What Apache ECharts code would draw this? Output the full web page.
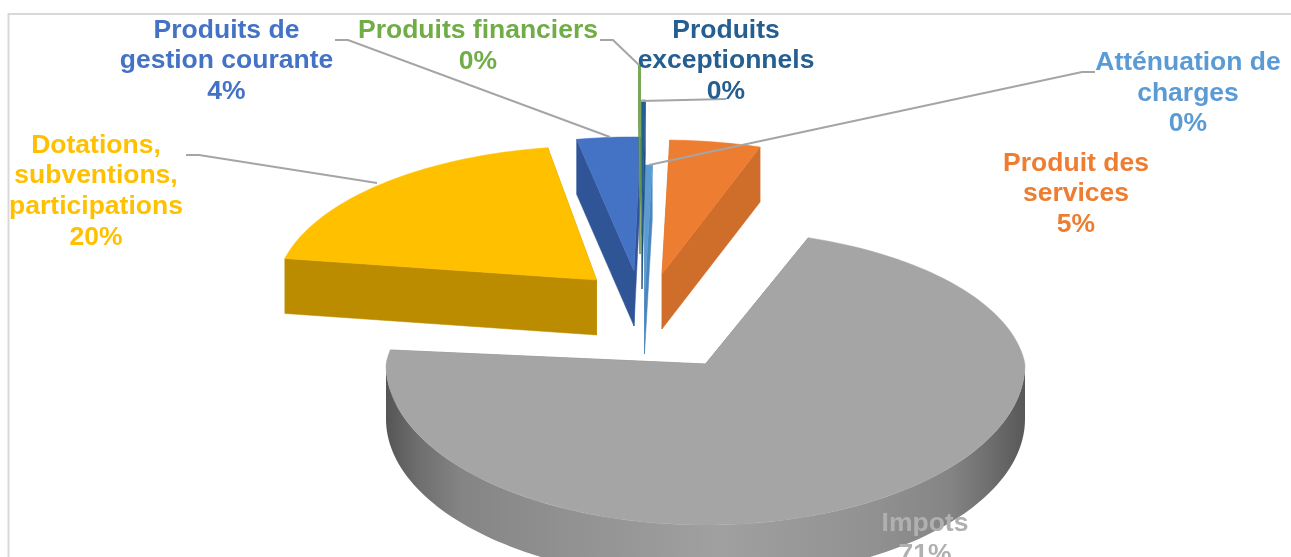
<!DOCTYPE html>
<html><head><meta charset="utf-8">
<style>html,body{margin:0;padding:0;background:#fff}#c{width:1291px;height:557px}</style>
<script src="https://cdn.jsdelivr.net/npm/echarts@6/dist/echarts.min.js"></script>
</head><body><div id="c"></div>
<script>
// Data
const categories = ['Atténuation de\ncharges','Produit des\nservices','Impots','Dotations,\nsubventions,\nparticipations','Produits de\ngestion courante','Produits financiers','Produits\nexceptionnels'];
const values = [0.4, 5, 71, 20, 3.5, 0.1, 0.2];
const percentLabels = ['0%','5%','71%','20%','4%','0%','0%'];

// Styles
const topColors  = ['#5b9bd5','#ed7d31','#a5a5a5','#ffc000','#4472c4','#70ad47','#255e91'];
const sideColors = ['#4a86bd','#cf6d2b','#7f7f7f','#bc8c00','#2f5597','#548235','#1e4e79'];
const labelColors = ['#5b9bd5','#ed7d31','#b0b0b0','#ffc000','#4472c4','#70ad47','#255e91'];

// Layout of the exploded 3D pie: each slice has its own apex and facing direction
const R = 319.5, backK = 146.3, frontK = 161, persp = 0.0915, depth = 55;
const apexes = [[644.5,299],[662,274],[705.5,364],[596.5,280],[634,271],[640,199],[642,234]];
const facing = [0.8, 10.5, 148, 314.5, 355, -0.1, 0.3];
const labelAnchors = [[1188,93.2],[1076,194],[925,539.5],[96,191.5],[226.5,61],[478,46.5],[726,61]];
const leaders = [
  [[1095,72],[1082,72],[649,165]],
  null,
  null,
  [[186,155],[199,155],[377,183]],
  [[335,40],[348,40],[610,137]],
  [[600,40],[613,40],[639,65]],
  [[726,99],[641,101]]
];
const wallStops = [[0,'#555555'],[0.05,'#6e6e6e'],[0.12,'#858585'],[0.27,'#909090'],[0.52,'#a0a0a0'],[0.75,'#929292'],[0.88,'#858585'],[0.94,'#707070'],[1,'#585858']];

const total = values.reduce((a,b)=>a+b,0);

function pt(apex, deg){
  const t = deg*Math.PI/180, u = Math.sin(t), v = Math.cos(t);
  if(v >= 0){ const w = 1+persp*v; return [apex[0]+R*u/w, apex[1]-backK*v/w]; }
  return [apex[0]+R*u, apex[1]-frontK*v];
}
function down(p){ return [p[0], p[1]+depth]; }
function poly(points, fill){
  return {type:'polygon', shape:{points}, style:{fill, stroke:fill, lineWidth:0.5}, silent:true};
}
function renderSlice(params, api){
  const i = api.value(1), span = api.value(0)/total*360;
  const a0 = facing[i]-span/2, a1 = facing[i]+span/2, apex = apexes[i];
  const arc = [];
  const n = Math.max(2, Math.ceil((a1-a0)/1.5));
  for(let k=0;k<=n;k++) arc.push(a0+(a1-a0)*k/n);
  const arcPts = arc.map(d=>pt(apex,d));
  const children = [];
  const side = sideColors[i];
  [arcPts[0], arcPts[arcPts.length-1]].forEach(p=>{
    children.push(poly([p, apex, down(apex), down(p)], side));
  });
  // outer wall: only the front half, from one widest point of the rim to the other
  const frontA = Math.max(a0, 90), frontB = Math.min(a1, 270);
  if(frontB > frontA){
    const m = Math.ceil((frontB-frontA)/1.5), front = [];
    for(let k=0;k<=m;k++) front.push(pt(apex, frontA+(frontB-frontA)*k/m));
    const fill = i===2 ? new echarts.graphic.LinearGradient(0,0,1,0,wallStops.map(s=>({offset:s[0],color:s[1]}))) : side;
    children.push({type:'polygon', shape:{points: front.concat(front.slice().reverse().map(down))}, style:{fill}, silent:true});
  }
  children.push(poly([apex].concat(arcPts), topColors[i]));
  return {type:'group', children};
}
function renderLeader(params, api){
  const pts = leaders[api.value(0)];
  if(!pts) return {type:'group', children:[]};
  return {type:'polyline', shape:{points:pts}, style:{stroke:'#a5a5a5', lineWidth:2, fill:null}, silent:true};
}
function renderLabel(params, api){
  const i = api.value(0), a = labelAnchors[i];
  return {type:'text', x:a[0], y:a[1], silent:true, style:{
    text: categories[i]+'\n'+percentLabels[i], fill: labelColors[i],
    font:'bold 26.5px "Liberation Sans", Arial, sans-serif', lineHeight:30.7, align:'center', verticalAlign:'middle'
  }};
}
const chart = echarts.init(document.getElementById('c'), null, {renderer:'canvas'});
chart.setOption({
  animation:false,
  backgroundColor:'#ffffff',
  graphic:[
    {type:'polyline', z:0, silent:true, shape:{points:[[8.5,557],[8.5,14],[1291,14]]}, style:{stroke:'#d9d9d9', lineWidth:2, fill:null}}
  ],
  series:[
    {type:'custom', coordinateSystem:'none', z:2, clip:false, silent:true, data:values.map((v,i)=>[v,i]), renderItem:renderSlice},
    {type:'custom', coordinateSystem:'none', z:3, silent:true, data:categories.map((c,i)=>[i]), renderItem:renderLeader},
    {type:'custom', coordinateSystem:'none', z:4, silent:true, data:categories.map((c,i)=>[i]), renderItem:renderLabel}
  ]
});
</script></body></html>
